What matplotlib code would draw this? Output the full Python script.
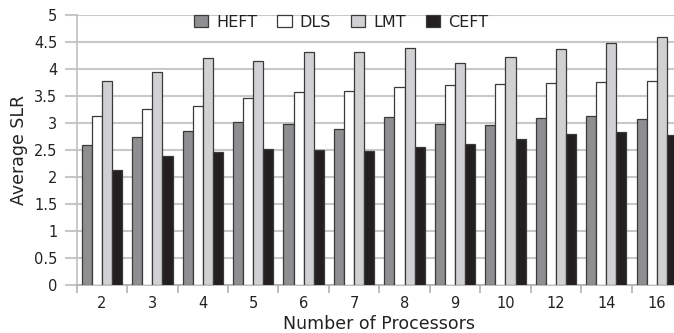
import numpy as np
import matplotlib
matplotlib.use("Agg")
import matplotlib.pyplot as plt

plt.rcParams["font.family"] = ["DejaVu Sans"]

procs = ["2", "3", "4", "5", "6", "7", "8", "9", "10", "12", "14", "16"]
heft = [2.60, 2.75, 2.85, 3.02, 2.98, 2.88, 3.12, 2.98, 2.96, 3.09, 3.13, 3.07]
dls = [3.13, 3.26, 3.32, 3.47, 3.58, 3.60, 3.67, 3.70, 3.73, 3.74, 3.76, 3.78]
lmt = [3.78, 3.95, 4.21, 4.14, 4.32, 4.31, 4.39, 4.12, 4.22, 4.37, 4.49, 4.60]
ceft = [2.13, 2.39, 2.47, 2.52, 2.50, 2.49, 2.56, 2.61, 2.71, 2.79, 2.83, 2.78]

series = [("HEFT", heft, "#8f8f91"), ("DLS", dls, "#ffffff"),
          ("LMT", lmt, "#d1d1d3"), ("CEFT", ceft, "#231f20")]

fig = plt.figure(figsize=(6.74, 3.33), dpi=100)
ax = fig.add_axes([0.1138, 0.144, 0.898, 0.811])

x = np.arange(len(procs))
w = 0.2
for i, (name, vals, col) in enumerate(series):
    ax.bar(x - 0.3 + i * w, vals, w, color=col, edgecolor="#3a3a3a",
           linewidth=0.9, label=name, zorder=3)

ax.set_xlim(-0.5, len(procs) - 0.5)
ax.set_ylim(0, 5)
ax.set_yticks(np.arange(0, 5.01, 0.5))
ax.set_yticklabels(["0", "0.5", "1", "1.5", "2", "2.5", "3", "3.5", "4", "4.5", "5"])
ax.set_xticks(x)
ax.set_xticklabels(procs)
ax.set_xticks(np.arange(-0.5, len(procs), 1), minor=True)
ax.tick_params(axis="x", which="major", length=0, labelsize=10.5, pad=8, colors="#222222")
ax.tick_params(axis="x", which="minor", length=6, color="#b0b0b0", width=1.2)
ax.tick_params(axis="y", length=9, color="#c8c8c8", width=1.5, labelsize=10.5, pad=5,
               labelcolor="#222222")
ax.grid(axis="y", color="#c8c8c8", linewidth=1.5, zorder=0)

for s in ["top", "right"]:
    ax.spines[s].set_visible(False)
ax.spines["left"].set_color("#c0c0c0")
ax.spines["left"].set_linewidth(1.2)
ax.spines["bottom"].set_color("#b0b0b0")
ax.spines["bottom"].set_linewidth(1.2)

ax.set_ylabel("Average SLR", fontsize=12.5, labelpad=4, color="#222222")
ax.set_xlabel("Number of Processors", fontsize=12.5, labelpad=3, color="#222222")

ax.legend(loc="upper center", bbox_to_anchor=(0.437, 1.025), ncol=4, frameon=False,
          fontsize=11.5, handlelength=0.9, handleheight=0.75, handletextpad=0.5,
          columnspacing=1.25, borderaxespad=0, labelcolor="#222222")

fig.savefig("out.png", dpi=100)
